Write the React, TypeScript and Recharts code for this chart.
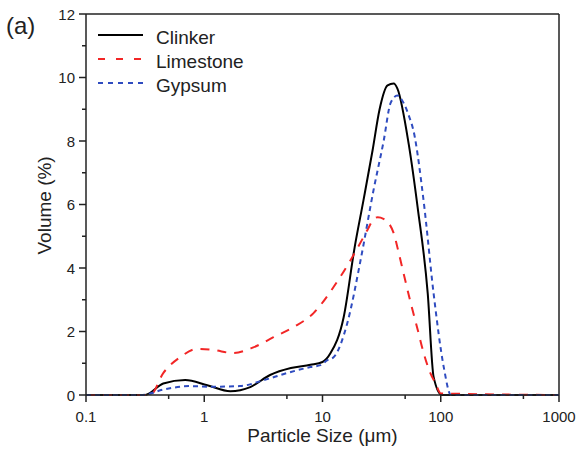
import React from "react";
import { LineChart, Line, XAxis, YAxis, ReferenceLine } from "recharts";

const clinkerSize = [0.1, 0.316, 0.45, 0.69, 1.06, 1.66, 2.45, 3.6, 5.4, 7.9, 10, 11.7, 15.1, 18.7, 22.2, 26.5, 30.4, 35.5, 40, 43, 53.6, 63.8, 77.6, 87, 102, 1000];
const clinkerVol = [0, 0, 0.36, 0.47, 0.31, 0.12, 0.25, 0.63, 0.85, 0.95, 1.04, 1.32, 2.45, 4.65, 6.13, 7.7, 9.0, 9.75, 9.81, 9.65, 7.9, 5.9, 3.2, 0.57, 0, 0];

const limestoneSize = [0.1, 0.35, 0.45, 0.63, 0.87, 1.19, 1.76, 2.6, 3.85, 5.7, 8.4, 12.4, 17.3, 24, 26.6, 29.3, 32.8, 40, 43, 48.5, 55.7, 64, 71.7, 81.7, 90, 100, 1000];
const limestoneVol = [0, 0, 0.69, 1.2, 1.45, 1.42, 1.32, 1.5, 1.82, 2.14, 2.58, 3.4, 4.25, 5.2, 5.5, 5.6, 5.55, 5.1, 4.65, 3.83, 2.9, 2.04, 1.32, 0.69, 0.38, 0.05, 0];

const gypsumSize = [0.1, 0.3, 0.45, 0.76, 1.19, 2.0, 3.2, 5.0, 7.9, 9.6, 11, 12.4, 16.2, 21, 27, 32.9, 37.7, 43, 48.5, 53.7, 59, 71.7, 87, 106, 122, 1000];
const gypsumVol = [0, 0, 0.17, 0.28, 0.26, 0.28, 0.47, 0.69, 0.88, 0.94, 1.1, 1.19, 2.26, 4.25, 6.45, 8.0, 9.2, 9.43, 9.2, 8.8, 8.3, 6.1, 3.2, 0.88, 0, 0];

const xTicks = [0.1, 0.5, 1, 5, 10, 50, 100, 500, 1000];
const xMajor = [0.1, 1, 10, 100, 1000];
const yTicks = [0, 1, 2, 3, 4, 5, 6, 7, 8, 9, 10, 11, 12];

const seriesNames = ["Clinker", "Limestone", "Gypsum"];
const RED = "#f22626";
const BLUE = "#2f4cc0";
const RED_DASH = "9 8";
const BLUE_DASH = "5 4";
const FONT = "'Liberation Sans', Arial, sans-serif";

const toRows = (sizes: number[], vols: number[]) => sizes.map((s, i) => ({ size: s, vol: vols[i] }));
const clinkerData = toRows(clinkerSize, clinkerVol);
const limestoneData = toRows(limestoneSize, limestoneVol);
const gypsumData = toRows(gypsumSize, gypsumVol);

const XTick = (props: any) => {
  const { x, y, payload } = props;
  const major = xMajor.includes(payload.value);
  return (
    <g>
      <line x1={x} x2={x} y1={y} y2={y + (major ? 7 : 4)} stroke="#222" strokeWidth={1.5} />
      {major && (
        <text x={x} y={y + 27} textAnchor="middle" fontSize={15} fontFamily={FONT} fill="#222">
          {payload.value}
        </text>
      )}
    </g>
  );
};

const YTick = (props: any) => {
  const { x, y, payload } = props;
  const major = payload.value % 2 === 0;
  return (
    <g>
      <line x1={x} x2={x - (major ? 7 : 4)} y1={y} y2={y} stroke="#222" strokeWidth={1.5} />
      {major && (
        <text x={x - 11} y={y + 5.5} textAnchor="end" fontSize={15} fontFamily={FONT} fill="#222">
          {payload.value}
        </text>
      )}
    </g>
  );
};

const legendStyles = [
  { stroke: "#000", dash: undefined as string | undefined },
  { stroke: RED, dash: "7 11" },
  { stroke: BLUE, dash: "5 5" },
];
const legendRows = [35, 59, 83];

export default function App() {
  return (
    <div style={{ position: "absolute", left: 0, top: 0, width: 578, height: 459, background: "#fff", fontFamily: FONT }}>
      <div style={{ position: "absolute", left: 6, top: 12, fontSize: 24, fontFamily: FONT, color: "#222", lineHeight: "28px" }}>(a)</div>
      <LineChart width={578} height={459} margin={{ top: 14, right: 19, bottom: 14, left: 46 }}>
        <XAxis
          dataKey="size"
          type="number"
          scale="log"
          domain={[0.1, 1000]}
          ticks={xTicks}
          allowDataOverflow
          height={50}
          tickSize={0}
          tickMargin={0}
          tickLine={false}
          tick={<XTick />}
          axisLine={{ stroke: "#222", strokeWidth: 1.5 }}
          label={{ value: "Particle Size (μm)", position: "insideBottom", offset: 0, dy: -3, fontSize: 19, fontFamily: FONT, fill: "#222" }}
        />
        <YAxis
          type="number"
          domain={[0, 12]}
          ticks={yTicks}
          width={40}
          tickSize={0}
          tickMargin={0}
          tickLine={false}
          tick={<YTick />}
          axisLine={{ stroke: "#222", strokeWidth: 1.5 }}
          label={{ value: "Volume (%)", angle: -90, position: "insideLeft", offset: 0, dx: -2, dy: 50, fontSize: 19, fontFamily: FONT, fill: "#222" }}
        />
        <ReferenceLine y={12} stroke="#222" strokeWidth={1.5} />
        <ReferenceLine x={1000} stroke="#222" strokeWidth={1.5} />
        <Line data={clinkerData} dataKey="vol" name="Clinker" type="monotone" stroke="#000" strokeWidth={2} dot={false} isAnimationActive={false} />
        <Line data={limestoneData} dataKey="vol" name="Limestone" type="monotone" stroke={RED} strokeWidth={2} strokeDasharray={RED_DASH} dot={false} isAnimationActive={false} />
        <Line data={gypsumData} dataKey="vol" name="Gypsum" type="monotone" stroke={BLUE} strokeWidth={2} strokeDasharray={BLUE_DASH} dot={false} isAnimationActive={false} />
      </LineChart>
      <svg width={200} height={90} style={{ position: "absolute", left: 88, top: 20 }}>
        {seriesNames.map((name, i) => (
          <g key={name}>
            <line x1={10} x2={55} y1={legendRows[i] - 20} y2={legendRows[i] - 20} stroke={legendStyles[i].stroke} strokeWidth={2} strokeDasharray={legendStyles[i].dash} />
            <text x={68} y={legendRows[i] - 20 + 9} fontSize={19} fontFamily={FONT} fill="#222">
              {name}
            </text>
          </g>
        ))}
      </svg>
    </div>
  );
}
